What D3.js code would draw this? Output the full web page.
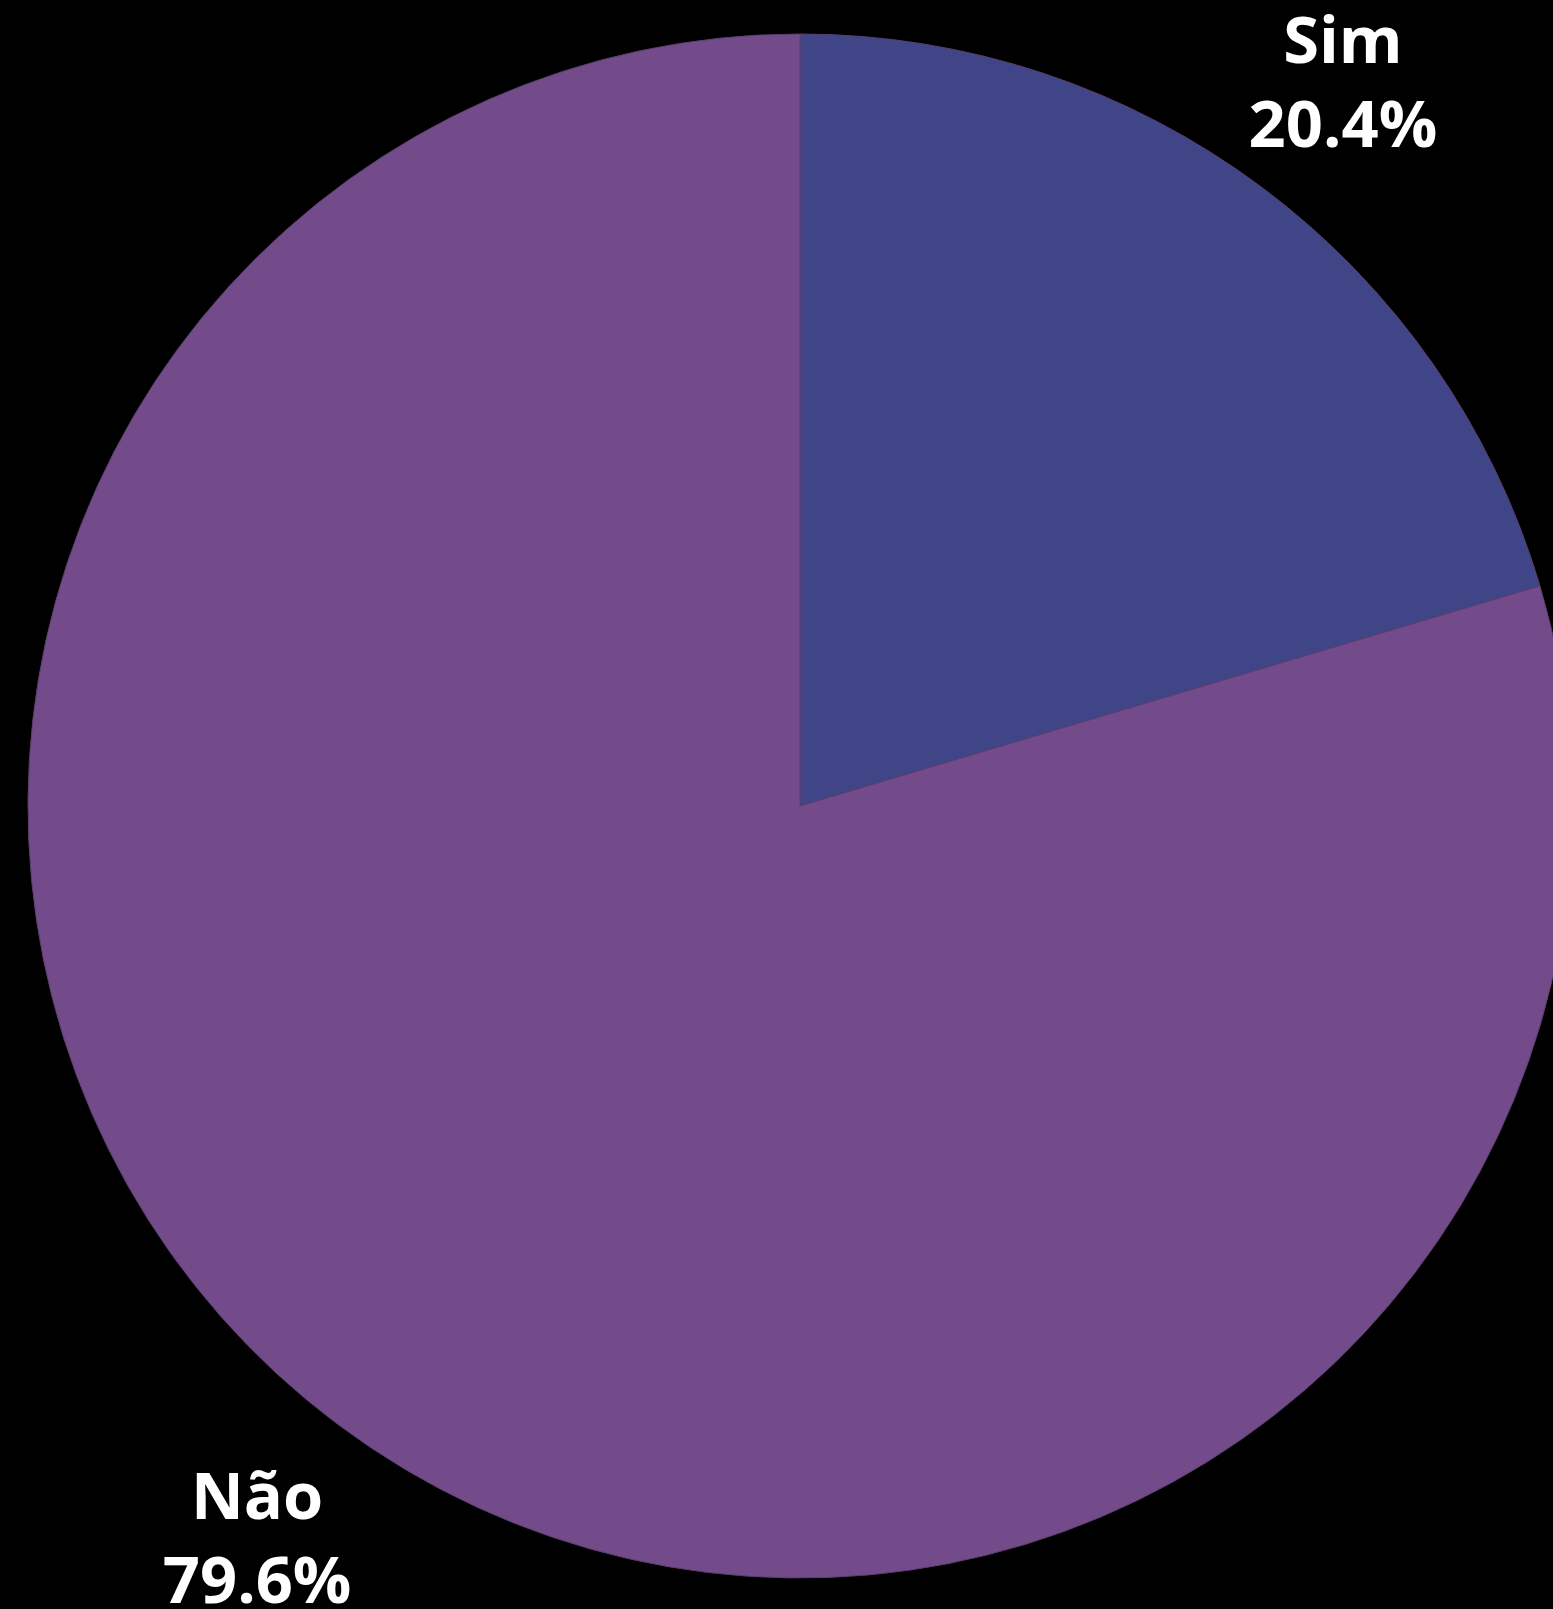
<!DOCTYPE html>
<html>
<head>
<meta charset="utf-8">
<script src="https://cdn.jsdelivr.net/npm/d3@7"></script>
<style>
    html, body { margin: 0; padding: 0; background: #000; overflow: hidden; }
    text { font-family: "Open Sans", sans-serif; font-weight: 700; fill: #fff; }
</style>
</head>
<body>
<div id="chart"></div>
<script>
var categories = ["Sim", "Não"];
var shares = [20.4, 79.6];
var colors = ["#3f4587", "#744b8a"];

(function() {
    var width = 1553,
        height = 1609;
    var cx = 800, cy = 806, radius = 772, labelRadius = 908;

    var svg = d3.select("#chart")
        .append("svg")
        .attr("width", width)
        .attr("height", height);

    var data = categories.map(function(c, i) {
        return { name: c, value: shares[i], color: colors[i] };
    });

    var pie = d3.pie()
        .sort(null)
        .value(function(d) { return d.value; });

    var arc = d3.arc().innerRadius(0).outerRadius(radius);

    var g = svg.append("g")
        .attr("transform", "translate(" + cx + "," + cy + ")");

    var slices = g.selectAll(".slice")
        .data(pie(data))
        .enter()
        .append("g")
        .attr("class", "slice");

    slices.append("path")
        .attr("d", arc)
        .style("fill", function(d) { return d.data.color; })
        .style("stroke", "#5a3f6e")
        .style("stroke-width", 1);

    // labels sit outside the pie at the mid angle
    var label = slices.append("text")
        .style("text-anchor", "middle")
        .style("font-size", "65px")
        .attr("transform", function(d) {
            var a = (d.startAngle + d.endAngle) / 2;
            return "translate(" + (labelRadius * Math.sin(a)) + "," + (-labelRadius * Math.cos(a)) + ")";
        });

    label.append("tspan")
        .attr("x", 0)
        .attr("y", -15)
        .text(function(d) { return d.data.name; });

    label.append("tspan")
        .attr("x", 0)
        .attr("y", 69)
        .text(function(d) { return d.data.value.toFixed(1) + "%"; });
})();
</script>
</body>
</html>
